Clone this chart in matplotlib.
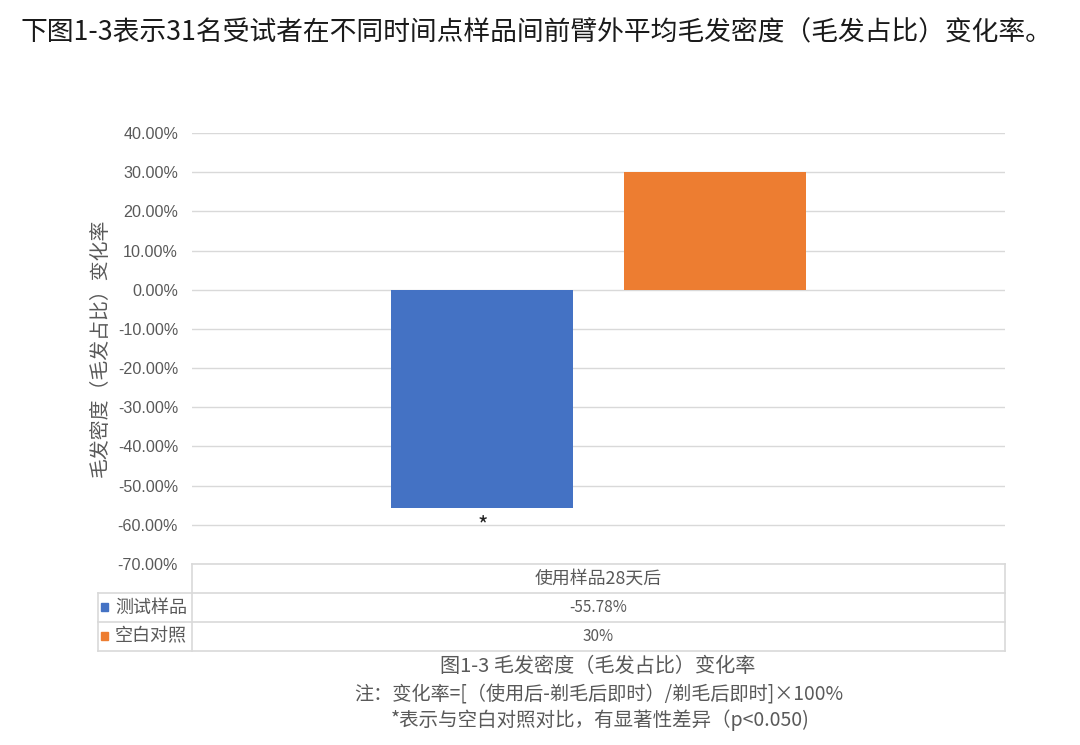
import matplotlib
matplotlib.use("Agg")
import matplotlib.pyplot as plt
from matplotlib.ticker import FuncFormatter
from matplotlib.patches import Rectangle

plt.rcParams['font.family'] = ['Noto Sans CJK SC', 'DejaVu Sans']

series = ['测试样品', '空白对照']
values = [-55.78, 30.0]
value_labels = ['-55.78%', '30%']
category = '使用样品28天后'
colors = ['#4472C4', '#ED7D31']
yticks = [40, 30, 20, 10, 0, -10, -20, -30, -40, -50, -60, -70]

W, H = 1080, 745
fig = plt.figure(figsize=(W / 100, H / 100), dpi=100)

def fx(px):
    return px / W

def fy(py):
    return 1 - py / H

gray = '#595959'
grid = '#D9D9D9'

# title
fig.text(fx(20), fy(33), '下图1-3表示31名受试者在不同时间点样品间前臂外平均毛发密度（毛发占比）变化率。',
         fontsize=19.3, color='#1a1a1a', va='center', ha='left')

# axes
ax = fig.add_axes([fx(192), fy(564), fx(1005) - fx(192), fy(133) - fy(564)])
ax.set_xlim(0, 1)
ax.set_ylim(-70, 40)
centers = [0.357, 0.643]
width = 0.224
for c, v, col in zip(centers, values, colors):
    ax.bar(c, v, width=width, color=col, zorder=3)
ax.set_yticks(yticks)
ax.yaxis.set_major_formatter(FuncFormatter(lambda v, p: f'{v:.2f}%'))
ax.tick_params(axis='y', length=0, pad=10, labelsize=11.6, labelcolor=gray)
for lab in ax.get_yticklabels():
    lab.set_fontfamily(['Liberation Sans', 'DejaVu Sans'])
ax.set_xticks([])
ax.grid(axis='y', color=grid, linewidth=1, zorder=0)
for s in ax.spines.values():
    s.set_visible(False)
ax.text(centers[0], values[0] - 4.6, '*', ha='center', va='center', fontsize=16, color='#222222')

fig.text(fx(100), fy(348), '毛发密度（毛发占比）变化率', rotation=90, fontsize=14.3,
         color=gray, ha='center', va='center')

# data table
tline = dict(color=grid, linewidth=1.2, transform=fig.transFigure)
L0, L1, R = 98, 192, 1005
rows = [564, 593, 622, 651]
fig.add_artist(plt.Line2D([fx(L1), fx(R)], [fy(rows[0]), fy(rows[0])], **tline))
for y in rows[1:]:
    fig.add_artist(plt.Line2D([fx(L0), fx(R)], [fy(y), fy(y)], **tline))
fig.add_artist(plt.Line2D([fx(L1), fx(L1)], [fy(rows[0]), fy(rows[3])], **tline))
fig.add_artist(plt.Line2D([fx(R), fx(R)], [fy(rows[0]), fy(rows[3])], **tline))
fig.add_artist(plt.Line2D([fx(L0), fx(L0)], [fy(rows[1]), fy(rows[3])], **tline))

cx = (L1 + R) / 2
fig.text(fx(cx), fy((rows[0] + rows[1]) / 2), category, ha='center', va='center',
         fontsize=12.9, color=gray)
for i, (name, lab, col) in enumerate(zip(series, value_labels, colors)):
    ymid = (rows[i + 1] + rows[i + 2]) / 2
    fig.add_artist(Rectangle((fx(101), fy(ymid + 3)), 7 / W, 8 / H,
                             color=col, transform=fig.transFigure))
    fig.text(fx(115), fy(ymid), name, ha='left', va='center', fontsize=13, color=gray)
    fig.text(fx(cx), fy(ymid), lab, ha='center', va='center', fontsize=11, color=gray)

# caption & notes
fig.text(fx(598), fy(666), '图1-3 毛发密度（毛发占比）变化率', ha='center', va='center',
         fontsize=14.5, color=gray)
fig.text(fx(599), fy(694), '注：变化率=[（使用后-剃毛后即时）/剃毛后即时]×100%', ha='center',
         va='center', fontsize=13.8, color=gray, style='italic')
fig.text(fx(600), fy(720), '*表示与空白对照对比，有显著性差异（p<0.050)', ha='center',
         va='center', fontsize=14, color=gray, style='italic')

fig.savefig('out.png', dpi=100)
